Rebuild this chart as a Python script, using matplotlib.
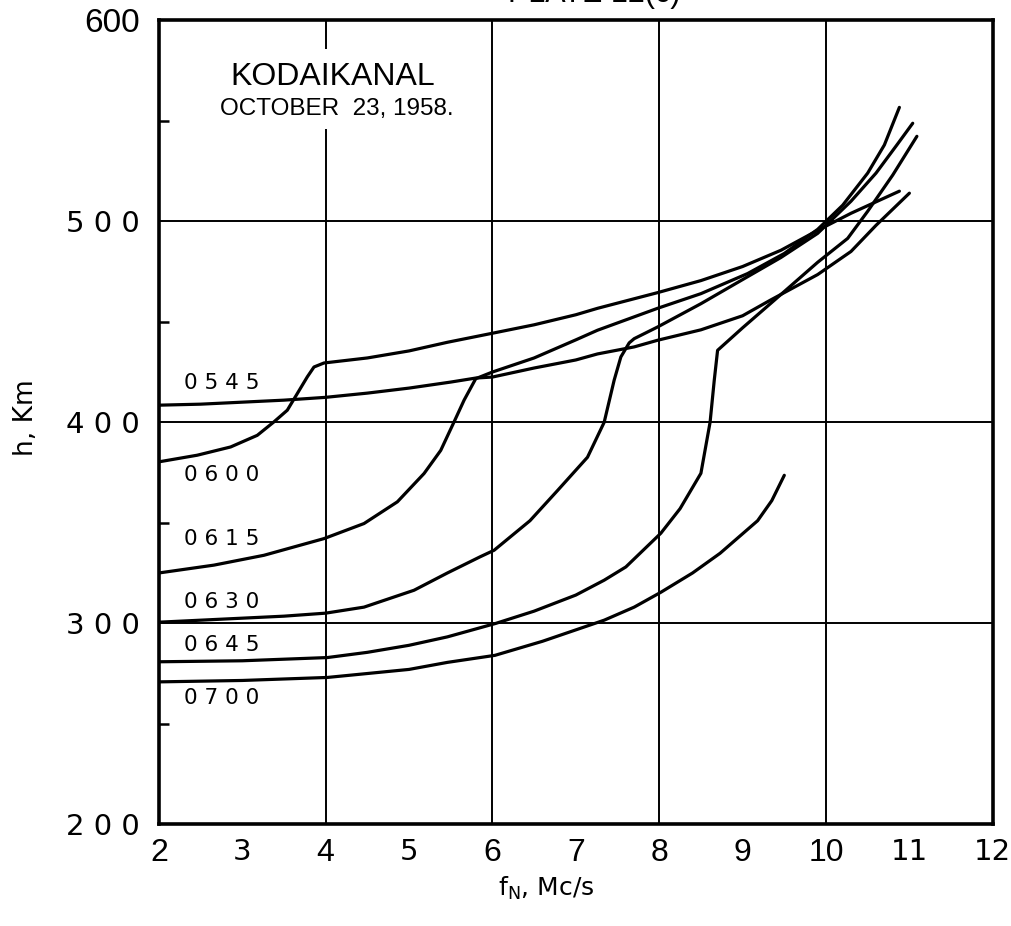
import numpy as np
import matplotlib.pyplot as plt
from matplotlib.patches import Rectangle

# h'(f) curves read from the plate, KODAIKANAL 23 Oct 1958
f0545 = [2.0, 2.5, 3.0, 3.5, 4.0, 4.5, 5.0, 5.5, 5.8, 6.0, 6.5, 7.0, 7.26, 7.7, 7.98,
         8.5, 9.0, 9.33, 9.9, 10.3, 10.6, 11.0]
h0545 = [408.5, 409, 410, 411, 412.4, 414.5, 417, 420, 422, 422.5, 427, 431, 434, 437.5, 440.8,
         446, 453, 460.7, 473.5, 485, 498, 514]

f0600 = [2.0, 2.46, 2.86, 3.18, 3.38, 3.54, 3.66, 3.78, 3.86, 3.98, 4.5, 5.0, 5.46, 6.0, 6.5,
         7.0, 7.26, 7.98, 8.5, 9.0, 9.46, 9.9, 10.3, 10.88]
h0600 = [380.3, 383.6, 387.7, 393.5, 400.2, 406, 414.3, 422.6, 427.5, 429.5, 432, 435.5, 439.8, 444.3, 448.5,
         453.5, 456.7, 464.5, 470.5, 477.5, 485.6, 495.5, 504, 515]

f0615 = [2.0, 2.66, 3.26, 3.98, 4.46, 4.86, 5.18, 5.38, 5.54, 5.66, 5.8, 6.0, 6.5, 7.0, 7.26,
         7.98, 8.5, 9.06, 9.5, 9.9, 10.2, 10.5, 10.7, 10.88]
h0615 = [325, 328.9, 333.8, 342.1, 349.6, 360.4, 374.5, 386, 400.2, 411, 421.7, 425, 432, 441, 445.8,
         456.7, 464, 474, 484, 496, 508, 524, 538, 556.7]

f0630 = [2.0, 2.5, 3.0, 3.5, 4.0, 4.46, 5.06, 5.46, 5.85, 6.02, 6.45, 6.78, 7.14, 7.34, 7.46,
         7.54, 7.64, 7.7, 7.98, 8.5, 9.0, 9.46, 9.9, 10.3, 10.6, 10.85, 11.04]
h0630 = [300.5, 301.5, 302.5, 303.5, 305, 308, 316.4, 325, 333, 336.3, 351, 366, 382.6, 400, 421,
         432.5, 439.5, 441.6, 447.4, 459, 471, 482, 494, 510, 524, 538, 548.8]

f0645 = [2.0, 3.0, 4.02, 4.5, 5.0, 5.46, 6.04, 6.5, 7.0, 7.34, 7.6, 8.02, 8.25, 8.5, 8.61,
         8.66, 8.7, 9.0, 9.38, 9.9, 10.26, 10.5, 10.8, 11.09]
h0645 = [280.8, 281.3, 282.9, 285.5, 289, 293.2, 299.9, 306, 314, 321.4, 328, 344.8, 357, 374.6, 400,
         420.9, 435.8, 447, 460.7, 479.6, 491.5, 505, 523, 542.3]

f0700 = [2.0, 3.0, 4.02, 5.0, 5.46, 6.03, 6.6, 7.34, 7.7, 8.02, 8.4, 8.73, 9.18, 9.35, 9.5]
h0700 = [270.8, 271.5, 273, 277, 280.5, 284, 291, 301.5, 308, 315.4, 325, 334.8, 351, 361, 373.6]

curves = [(f0545, h0545), (f0600, h0600), (f0615, h0615),
          (f0630, h0630), (f0645, h0645), (f0700, h0700)]

# curve labels and where they sit
label_txt = ["0 5 4 5", "0 6 0 0", "0 6 1 5", "0 6 3 0", "0 6 4 5", "0 7 0 0"]
label_h = [419.4, 373.6, 342, 310.4, 289, 262.7]

xticks = [2, 3, 4, 5, 6, 7, 8, 9, 10, 11, 12]
yticks = [200, 300, 400, 500, 600]
ytick_txt = ["2 0 0", "3 0 0", "4 0 0", "5 0 0", "600"]

fig = plt.figure(figsize=(10.12, 9.26), dpi=100)
ax = fig.add_axes([0.157, 0.110, 0.824, 0.868])
ax.set_xlim(2, 12)
ax.set_ylim(200, 600)

# grid
for gx in [4, 6, 8, 10]:
    ax.axvline(gx, color='black', lw=1.4, zorder=1)
for gy in [300, 400, 500]:
    ax.axhline(gy, color='black', lw=1.4, zorder=1)

# blank area behind the station name
ax.add_patch(Rectangle((2.4, 546), 3.45, 40, facecolor='white', edgecolor='none', zorder=1.5))

for f, h in curves:
    ax.plot(f, h, color='black', lw=2.3, solid_capstyle='round', solid_joinstyle='round', zorder=3)

for txt, y in zip(label_txt, label_h):
    ax.text(2.3, y, txt, fontsize=15.5, family='DejaVu Sans', va='center', ha='left', zorder=4)

ax.text(4.09, 571.9, "KODAIKANAL", fontsize=23, family='Liberation Sans', ha='center', va='center', zorder=4)
ax.text(4.13, 555.7, "OCTOBER  23, 1958.", fontsize=17.5, family='Liberation Sans', ha='center', va='center', zorder=4)

ax.set_xticks(xticks)
ax.set_xticklabels([str(v) for v in xticks])
ax.set_yticks(yticks)
ax.set_yticklabels(ytick_txt)
ax.set_xticks([3, 5, 7, 9, 11], minor=True)
ax.set_yticks([250, 350, 450, 550], minor=True)
ax.tick_params(which='major', length=0)
ax.tick_params(axis='x', which='major', pad=10, labelsize=21)
ax.tick_params(axis='y', which='major', pad=14, labelsize=21)
ax.tick_params(which='minor', direction='in', length=7, width=1.8)

for lab in ax.get_xticklabels():
    if lab.get_text() in ["3", "5", "11", "12"]:
        lab.set_fontfamily('DejaVu Sans')
    else:
        lab.set_fontfamily('Liberation Sans')
        lab.set_fontsize(23)
for lab in ax.get_yticklabels():
    if lab.get_text() == "600":
        lab.set_fontfamily('Liberation Sans')
        lab.set_fontsize(24)
    else:
        lab.set_fontfamily('DejaVu Sans')

for sp in ax.spines.values():
    sp.set_linewidth(2.6)

fig.text(0.026, 1 - 418 / 926, "h, Km", rotation=90, fontsize=19, ha='center', va='center')
fig.text(0.54, 1 - 888 / 926, r"f$_{\mathrm{N}}$, Mc/s", fontsize=18, ha='center', va='center')
# plate title, cut off at the top of the scan
fig.text(0.672, 1 - 9 / 926, "PLATE 12(c)", fontsize=22, family='Liberation Sans', ha='right', va='bottom')

fig.savefig("out.png", dpi=100)
